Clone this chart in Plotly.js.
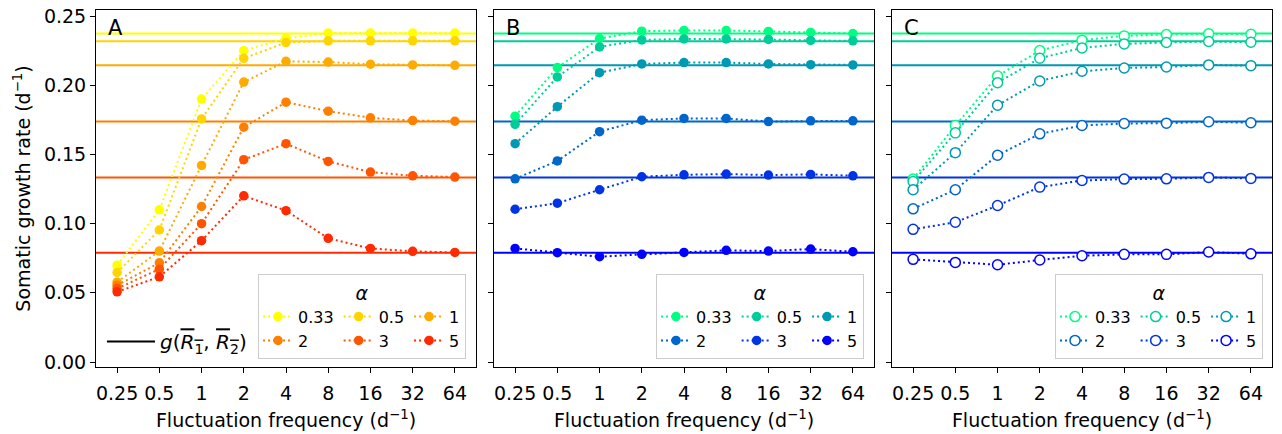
<!DOCTYPE html>
<html><head><meta charset="utf-8">
<script src="https://cdn.plot.ly/plotly-3.0.1.min.js"></script>
<style>html,body{margin:0;padding:0;background:#fff;}#chart{width:1282px;height:434px;}</style>
</head><body><div id="chart"></div>
<script>
// ---- data ----
const freq = [0.25, 0.5, 1, 2, 4, 8, 16, 32, 64];
const freqLabels = ['0.25', '0.5', '1', '2', '4', '8', '16', '32', '64'];
const alphaLabels = ['0.33', '0.5', '1', '2', '3', '5'];
const refRates = [0.2374, 0.2319, 0.2144, 0.1738, 0.1334, 0.0790];
const yTicks = [0, 0.05, 0.10, 0.15, 0.20, 0.25];
const panelLetters = ['A', 'B', 'C'];

// Panel A
const A_a033 = [0.070, 0.110, 0.190, 0.225, 0.234, 0.2377, 0.2377, 0.2377, 0.2377];
const A_a05  = [0.0647, 0.0954, 0.1757, 0.2195, 0.2309, 0.2321, 0.2321, 0.2321, 0.2321];
const A_a1   = [0.0577, 0.0802, 0.1421, 0.2023, 0.2173, 0.2168, 0.2152, 0.2147, 0.2144];
const A_a2   = [0.0555, 0.0717, 0.1124, 0.1697, 0.1878, 0.1813, 0.1765, 0.1745, 0.1740];
const A_a3   = [0.0531, 0.0671, 0.1000, 0.1462, 0.1578, 0.1450, 0.1373, 0.1346, 0.1337];
const A_a5   = [0.0507, 0.0616, 0.0877, 0.1201, 0.1094, 0.0894, 0.0821, 0.0800, 0.0792];
// Panel B
const B_a033 = [0.1777, 0.2128, 0.2338, 0.2391, 0.2396, 0.2396, 0.2389, 0.2382, 0.2374];
const B_a05  = [0.1718, 0.2060, 0.2277, 0.2328, 0.2335, 0.2335, 0.2331, 0.2324, 0.2321];
const B_a1   = [0.1578, 0.1845, 0.2091, 0.2154, 0.2164, 0.2164, 0.2154, 0.2149, 0.2147];
const B_a2   = [0.1324, 0.1453, 0.1665, 0.1748, 0.1760, 0.1760, 0.1738, 0.1743, 0.1743];
const B_a3   = [0.1104, 0.1148, 0.1245, 0.1339, 0.1353, 0.1358, 0.1351, 0.1356, 0.1346];
const B_a5   = [0.0821, 0.0790, 0.0761, 0.0778, 0.0792, 0.0807, 0.0802, 0.0816, 0.0797];
// Panel C
const C_a033 = [0.1322, 0.1709, 0.2067, 0.2251, 0.2326, 0.2357, 0.2367, 0.2372, 0.2369];
const C_a05  = [0.1305, 0.1656, 0.2019, 0.2195, 0.2270, 0.2299, 0.2309, 0.2316, 0.2311];
const C_a1   = [0.1245, 0.1513, 0.1856, 0.2031, 0.2101, 0.2125, 0.2132, 0.2147, 0.2142];
const C_a2   = [0.1107, 0.1245, 0.1494, 0.1649, 0.1709, 0.1724, 0.1726, 0.1736, 0.1729];
const C_a3   = [0.0959, 0.1010, 0.1131, 0.1264, 0.1312, 0.1322, 0.1324, 0.1334, 0.1327];
const C_a5   = [0.0742, 0.0720, 0.0703, 0.0737, 0.0768, 0.0778, 0.0778, 0.0795, 0.0782];

const autumnColors = ['#ffff00', '#ffd400', '#ffaa00', '#ff8000', '#ff5500', '#ff2b00'];
const winterColors = ['#00ff80', '#00cc99', '#0099b3', '#0066cc', '#0033e6', '#0000ff'];

// ---- build ----
const panels = [
  {series: [A_a033, A_a05, A_a1, A_a2, A_a3, A_a5], colors: autumnColors, open: false},
  {series: [B_a033, B_a05, B_a1, B_a2, B_a3, B_a5], colors: winterColors, open: false},
  {series: [C_a033, C_a05, C_a1, C_a2, C_a3, C_a5], colors: winterColors, open: true}
];
const FONT = 'DejaVu Sans, sans-serif';
const axSuffix = ['', '2', '3'];
const legendNames = ['legend', 'legend2', 'legend3'];
const traces = [];
const shapes = [];
const annotations = [];

panels.forEach((p, pi) => {
  const xa = 'x' + axSuffix[pi], ya = 'y' + axSuffix[pi];
  refRates.forEach((r, i) => {
    shapes.push({type: 'line', xref: xa + ' domain', yref: ya, x0: 0, x1: 1, y0: r, y1: r,
      line: {color: p.colors[i], width: 2}, layer: 'below'});
  });
  p.series.forEach((vals, i) => {
    traces.push({
      x: freq, y: vals, xaxis: xa, yaxis: ya, type: 'scatter', mode: 'lines+markers',
      name: alphaLabels[i], legend: legendNames[pi], legendgroup: 'p' + pi + 'c' + (i % 3),
      line: {color: p.colors[i], width: 2, dash: '2px,3px'},
      marker: p.open ? {symbol: 'circle', size: 10, color: '#ffffff', line: {color: p.colors[i], width: 1.5}}
                     : {symbol: 'circle', size: 9.5, color: p.colors[i], line: {width: 0}},
      hoverinfo: 'x+y'
    });
  });
  annotations.push({text: panelLetters[pi], xref: xa + ' domain', yref: ya + ' domain', x: 0.025, y: 0.99,
    xanchor: 'left', yanchor: 'top', showarrow: false, font: {family: FONT, size: 21, color: '#000'}});
});

// reference-line legend entry (proxy)
traces.push({x: [null], y: [null], xaxis: 'x', yaxis: 'y', type: 'scatter', mode: 'lines',
  name: '<i>g</i>(<span style="text-decoration:overline"><i>R</i><sub>1</sub></span>, <span style="text-decoration:overline"><i>R</i><sub>2</sub></span>)',
  legend: 'legend4', line: {color: '#000', width: 2}});

const L = 96, R = 10, T = 10, B = 67, W = 1282, H = 434;
const pw = W - L - R, ph = H - T - B;
const xRange = [-2.5 * Math.log10(2), 6.5 * Math.log10(2)];
function xaxis(d0, d1) {
  return {domain: [d0, d1], type: 'log', range: xRange, tickvals: freq, ticktext: freqLabels,
    showline: true, mirror: true, linecolor: '#000', linewidth: 1, ticks: 'outside', ticklen: 5,
    tickwidth: 1, tickcolor: '#000', showgrid: false, zeroline: false, ticklabelstandoff: 4,
    tickfont: {family: FONT, size: 19, color: '#000'},
    title: {text: 'Fluctuation frequency (d<sup>−1</sup>)', font: {family: FONT, size: 19, color: '#000'}, standoff: 10}};
}
function yaxis(anchor, labels) {
  return {anchor: anchor, range: [-0.0036, 0.2544], tickvals: yTicks, tickformat: '.2f',
    showticklabels: labels, showline: true, mirror: true, linecolor: '#000', linewidth: 1,
    ticks: 'outside', ticklen: 5, tickwidth: 1, tickcolor: '#000', showgrid: false, zeroline: false,
    tickfont: {family: FONT, size: 19, color: '#000'}, matches: anchor === 'x' ? undefined : 'y'};
}
const legBase = {orientation: 'h', traceorder: 'grouped', xanchor: 'right', yanchor: 'bottom',
  bgcolor: 'rgba(255,255,255,0.8)', bordercolor: '#cccccc', borderwidth: 1,
  font: {family: FONT, size: 16, color: '#000'}, itemwidth: 30, tracegroupgap: 0,
  title: {text: '<i>α</i>', side: 'top center', font: {family: FONT, size: 19, color: '#000'}}};

const layout = {
  width: W, height: H, margin: {l: L, r: R, t: T, b: B}, paper_bgcolor: '#fff', plot_bgcolor: '#fff',
  showlegend: true, font: {family: FONT, color: '#000'},
  xaxis: xaxis(0, 380 / pw), xaxis2: xaxis(398 / pw, 778 / pw), xaxis3: xaxis(796 / pw, 1),
  yaxis: Object.assign(yaxis('x', true), {title: {text: 'Somatic growth rate (d<sup>−1</sup>)',
    font: {family: FONT, size: 19, color: '#000'}, standoff: 8}}),
  yaxis2: yaxis('x2', false), yaxis3: yaxis('x3', false),
  legend: Object.assign({}, legBase, {x: (466 - L) / pw, y: (H - B - 359) / ph}),
  legend2: Object.assign({}, legBase, {x: (864 - L) / pw, y: (H - B - 359) / ph}),
  legend3: Object.assign({}, legBase, {x: (1263 - L) / pw, y: (H - B - 359) / ph}),
  legend4: {x: (102 - L) / pw, y: (H - B - 361) / ph, xanchor: 'left', yanchor: 'bottom', bgcolor: 'rgba(0,0,0,0)',
    borderwidth: 0, itemwidth: 48, font: {family: FONT, size: 20, color: '#000'}},
  shapes: shapes, annotations: annotations
};
Plotly.newPlot('chart', traces, layout, {displayModeBar: false, staticPlot: true});
</script></body></html>
